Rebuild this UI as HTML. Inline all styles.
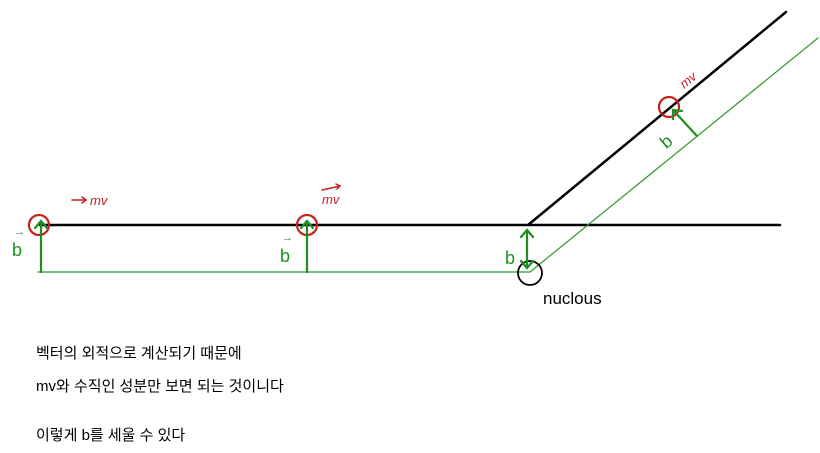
<!DOCTYPE html>
<html><head><meta charset="utf-8"><style>
body{margin:0;background:#fff;width:820px;height:453px;overflow:hidden}
svg{display:block}
text{font-family:"Liberation Sans","Noto Sans CJK KR",sans-serif}
</style></head><body>
<svg width="820" height="453" viewBox="0 0 820 453">
<g fill="none" stroke-linecap="round">
<line x1="40" y1="225" x2="780" y2="225" stroke="#000" stroke-width="2.5"/>
<line x1="528" y1="225" x2="786" y2="12" stroke="#000" stroke-width="2.5"/>
<line x1="38" y1="272" x2="530" y2="272" stroke="#2a9a2a" stroke-width="1.2"/>
<line x1="530" y1="272" x2="818" y2="38" stroke="#2a9a2a" stroke-width="1.2"/>
<circle cx="530" cy="273" r="12" stroke="#000" stroke-width="1.8"/>
<circle cx="39" cy="225" r="10" stroke="#c62020" stroke-width="2.2"/>
<circle cx="307" cy="225" r="10" stroke="#c62020" stroke-width="2.2"/>
<circle cx="669" cy="107" r="10" stroke="#c62020" stroke-width="2.2"/>
<g stroke="#1f8f1f" stroke-width="2.2">
<path d="M41 272V221M35 228L41 221L47 228"/>
<path d="M307 272V221M301 228L307 221L313 228"/>
<path d="M527 230V268M521 237L527 230L533 237M521 261L527 268L533 261"/>
<path d="M697 136L673 110M673 119L673 110L682 111"/>
</g>
<g stroke="#c62020" stroke-width="1.5">
<path d="M72 200H86M82 197L86 200L82 203"/>
<path d="M322 190L340 186M336 184L340 186L337 189"/>
</g>
</g>
<g fill="#1f8f1f" font-size="18">
<text x="12" y="256">b</text><text x="14" y="235" font-size="11">→</text>
<text x="280" y="262">b</text><text x="282" y="241" font-size="11">→</text>
<text x="505" y="264">b</text>
<text x="660" y="148" transform="rotate(-40 665 140)">b</text>
</g>
<g fill="#c62020" font-size="13" font-style="italic">
<text x="90" y="205">mv</text>
<text x="322" y="204">mv</text>
<text x="678" y="84" transform="rotate(-40 688 78)">mv</text>
</g>
<text x="543" y="304" font-size="17" fill="#000">nuclous</text>
<g font-size="15" fill="#000">
<text x="36" y="358">벡터의 외적으로 계산되기 때문에</text>
<text x="36" y="391">mv와 수직인 성분만 보면 되는 것이니다</text>
<text x="36" y="440">이렇게 b를 세울 수 있다</text>
</g>
</svg>
</body></html>
